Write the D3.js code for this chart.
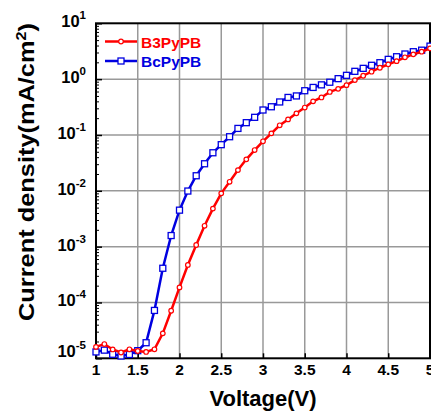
<!DOCTYPE html>
<html>
<head>
<meta charset="utf-8">
<script src="https://cdn.jsdelivr.net/npm/d3@7"></script>
<style>
  body { margin: 0; background: #fff; }
  text { font-family: "Liberation Sans", Arial, sans-serif; font-weight: bold; }
</style>
</head>
<body>
<script>
// voltages 1.0 .. 5.0 step 0.1
var voltage = [1.0,1.1,1.2,1.3,1.4,1.5,1.6,1.7,1.8,1.9,2.0,2.1,2.2,2.3,2.4,2.5,2.6,2.7,2.8,2.9,3.0,
  3.1,3.2,3.3,3.4,3.5,3.6,3.7,3.8,3.9,4.0,4.1,4.2,4.3,4.4,4.5,4.6,4.7,4.8,4.9,5.0];

var b3pypb = [1.6e-5,1.8e-5,1.44e-5,1.27e-5,1.45e-5,1.35e-5,1.3e-5,1.45e-5,2.8e-5,7.1e-5,1.86e-4,
  4.7e-4,1.07e-3,2.36e-3,4.8e-3,9.0e-3,0.0145,0.0235,0.0366,0.0537,0.077,
  0.107,0.149,0.19,0.244,0.31,0.40,0.47,0.59,0.67,0.78,0.96,1.15,1.36,1.6,1.84,2.1,2.46,2.78,3.1,3.56];

var bcpypb = [1.3e-5,1.4e-5,1.18e-5,1.1e-5,1.17e-5,1.37e-5,1.9e-5,7.2e-5,4.1e-4,1.58e-3,4.5e-3,
  9.9e-3,0.0186,0.0305,0.048,0.067,0.093,0.131,0.166,0.207,0.28,
  0.32,0.39,0.47,0.50,0.62,0.71,0.79,0.88,1.02,1.17,1.38,1.56,1.77,1.97,2.26,2.52,2.82,3.1,3.3,3.9];

var xTicks = [1,1.5,2,2.5,3,3.5,4,4.5,5];
var xTickLabels = ["1","1.5","2","2.5","3","3.5","4","4.5","5"];
var yTickExp = [1,0,-1,-2,-3,-4,-5];

var W = 431, H = 412;
var pLeft = 96, pRight = 430, pTop = 23.3, pBottom = 358.3;

var svg = d3.select("body").append("svg")
    .attr("width", W)
    .attr("height", H);

var x = d3.scaleLinear().domain([1,5]).range([pLeft,pRight]);
var y = d3.scaleLog().domain([1e-5,10]).range([pBottom,pTop]);

/*==================== grid ====================*/
svg.append("g").selectAll("line")
    .data(xTicks.slice(1,-1))
    .enter().append("line")
    .attr("x1", function(d){ return x(d); })
    .attr("x2", function(d){ return x(d); })
    .attr("y1", pTop).attr("y2", pBottom)
    .attr("stroke", "#999").attr("stroke-width", 1.5);

svg.append("g").selectAll("line")
    .data(yTickExp.slice(1,-1))
    .enter().append("line")
    .attr("x1", pLeft).attr("x2", pRight)
    .attr("y1", function(d){ return y(Math.pow(10,d)); })
    .attr("y2", function(d){ return y(Math.pow(10,d)); })
    .attr("stroke", "#999").attr("stroke-width", 1.5);

/*==================== axes ====================*/
// bottom axis, ticks pointing inward
var xAxis = d3.axisBottom(x).tickValues(xTicks).tickSize(-5).tickFormat("");
var gx = svg.append("g").attr("transform", "translate(0," + pBottom + ")").call(xAxis);
gx.select(".domain").remove();
gx.selectAll(".tick line").attr("stroke", "#000").attr("stroke-width", 1.5);

svg.append("g").selectAll("text")
    .data(xTicks)
    .enter().append("text")
    .attr("x", function(d){ return x(d); })
    .attr("y", pBottom + 17)
    .attr("text-anchor", "middle")
    .attr("font-size", "15.5px")
    .text(function(d, i){ return xTickLabels[i]; });

// left axis: major + minor ticks inward
var minor = [];
for (var e = -5; e < 1; e++) {
  for (var m = 2; m < 10; m++) minor.push(m * Math.pow(10, e));
}
var gy = svg.append("g").attr("transform", "translate(" + pLeft + ",0)");
gy.call(d3.axisLeft(y).tickValues(yTickExp.map(function(d){ return Math.pow(10,d); })).tickSize(-6).tickFormat(""));
gy.select(".domain").remove();
gy.selectAll(".tick line").attr("stroke", "#000").attr("stroke-width", 1.5);
var gyMinor = svg.append("g").attr("transform", "translate(" + pLeft + ",0)");
gyMinor.call(d3.axisLeft(y).tickValues(minor).tickSize(-3).tickFormat(""));
gyMinor.select(".domain").remove();
gyMinor.selectAll(".tick line").attr("stroke", "#000").attr("stroke-width", 1);

var ylab = svg.append("g").selectAll("text")
    .data(yTickExp)
    .enter().append("text")
    .attr("x", 86)
    .attr("y", function(d){ return y(Math.pow(10,d)) + (d == -5 ? -1 : 4); })
    .attr("text-anchor", "end")
    .attr("font-size", "16.5px");
ylab.append("tspan").text("10");
ylab.append("tspan").attr("dy", -8).attr("font-size", "11.5px").text(function(d){ return d; });

// frame
svg.append("rect")
    .attr("x", pLeft).attr("y", pTop)
    .attr("width", pRight - pLeft).attr("height", pBottom - pTop)
    .attr("fill", "none").attr("stroke", "#000").attr("stroke-width", 2);

/*==================== series ====================*/
var line = d3.line()
    .x(function(d){ return x(d[0]); })
    .y(function(d){ return y(d[1]); });

var red = voltage.map(function(v, i){ return [v, b3pypb[i]]; });
var blue = voltage.map(function(v, i){ return [v, bcpypb[i]]; });

svg.append("path").datum(blue)
    .attr("d", line).attr("fill", "none")
    .attr("stroke", "#0000e0").attr("stroke-width", 2.5);
svg.append("g").selectAll("rect")
    .data(blue)
    .enter().append("rect")
    .attr("x", function(d){ return x(d[0]) - 3; })
    .attr("y", function(d){ return y(d[1]) - 3; })
    .attr("width", 6).attr("height", 6)
    .attr("fill", "#fff").attr("stroke", "#0000e0").attr("stroke-width", 1.3);

svg.append("path").datum(red)
    .attr("d", line).attr("fill", "none")
    .attr("stroke", "#ff0000").attr("stroke-width", 2.5);
svg.append("g").selectAll("circle")
    .data(red)
    .enter().append("circle")
    .attr("cx", function(d){ return x(d[0]); })
    .attr("cy", function(d){ return y(d[1]); })
    .attr("r", 2.3)
    .attr("fill", "#fff").attr("stroke", "#ff0000").attr("stroke-width", 1.2);

/*==================== legend ====================*/
var legend = [
  {name: "B3PyPB", color: "#ff0000", shape: "circle", y: 41.5},
  {name: "BcPyPB", color: "#0000e0", shape: "square", y: 61}
];
legend.forEach(function(l){
  svg.append("line")
      .attr("x1", 105).attr("x2", 137)
      .attr("y1", l.y).attr("y2", l.y)
      .attr("stroke", l.color).attr("stroke-width", 2.5);
  if (l.shape == "circle") {
    svg.append("circle").attr("cx", 121).attr("cy", l.y).attr("r", 2.3)
        .attr("fill", "#fff").attr("stroke", l.color).attr("stroke-width", 1.2);
  } else {
    svg.append("rect").attr("x", 118).attr("y", l.y - 3).attr("width", 6).attr("height", 6)
        .attr("fill", "#fff").attr("stroke", l.color).attr("stroke-width", 1.3);
  }
  svg.append("text")
      .attr("x", 141).attr("y", l.y + 6)
      .attr("font-size", "15.5px")
      .attr("fill", l.color)
      .text(l.name);
});

/*==================== titles ====================*/
svg.append("text")
    .attr("x", 263).attr("y", 406)
    .attr("text-anchor", "middle")
    .attr("font-size", "22px")
    .text("Voltage(V)");

var yt = svg.append("text")
    .attr("transform", "translate(34,172) rotate(-90)")
    .attr("text-anchor", "middle")
    .attr("font-size", "22px")
    .attr("textLength", 298)
    .attr("lengthAdjust", "spacingAndGlyphs");
yt.append("tspan").text("Current density(mA/cm");
yt.append("tspan").attr("dy", -8).attr("font-size", "14px").text("2");
yt.append("tspan").attr("dy", 8).text(")");
</script>
</body>
</html>
